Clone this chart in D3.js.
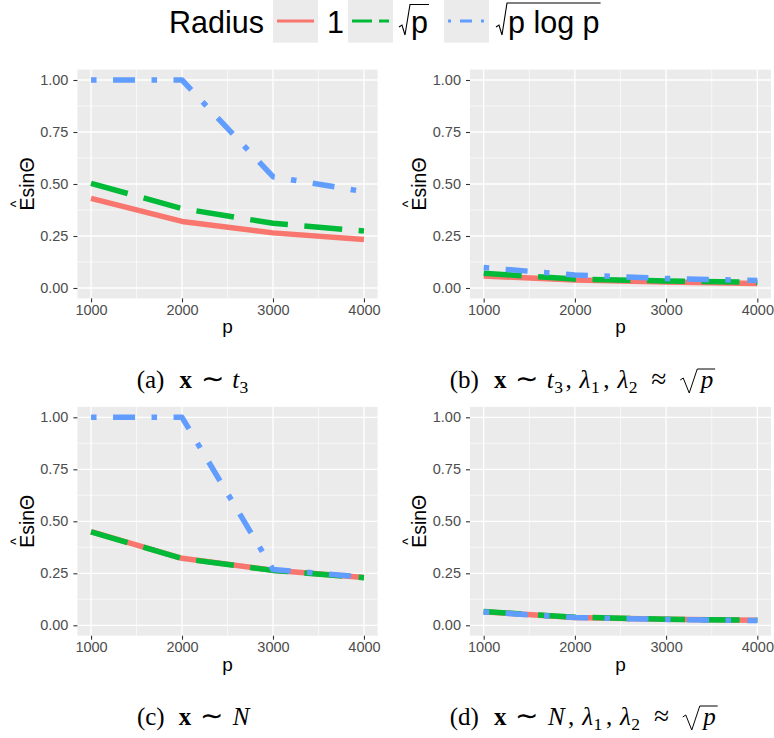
<!DOCTYPE html>
<html>
<head>
<meta charset="utf-8">
<script src="https://cdn.jsdelivr.net/npm/d3@7"></script>
<style>
  body { margin: 0; background: #fff; }
  svg { display: block; }
</style>
</head>
<body>
<div id="chart"></div>
<script>
// Shared values
const pValues = [1000, 2000, 3000, 4000];
const xTicks = [1000, 2000, 3000, 4000];
const xMinorTicks = [1500, 2500, 3500];
const yTicks = [0, 0.25, 0.5, 0.75, 1];
const yMinorTicks = [0.125, 0.375, 0.625, 0.875];
const radiusLabels = ["1", "p", "p log p"];

// (a) x ~ t3
const aRadius1 = [0.431, 0.320, 0.265, 0.233];
const aRadiusSqrt = [0.503, 0.382, 0.311, 0.274];
const aRadiusSqrtLog = [1.0, 1.0, 0.535, 0.463];
// (b) x ~ t3, lambda ~ sqrt(p)
const bRadius1 = [0.058, 0.038, 0.029, 0.022];
const bRadiusSqrt = [0.071, 0.043, 0.034, 0.027];
const bRadiusSqrtLog = [0.098, 0.063, 0.046, 0.036];
// (c) x ~ N
const cRadius1 = [0.450, 0.322, 0.265, 0.230];
const cRadiusSqrt = [0.449, 0.321, 0.264, 0.229];
const cRadiusSqrtLog = [1.0, 1.0, 0.268, 0.232];
// (d) x ~ N, lambda ~ sqrt(p)
const dRadius1 = [0.065, 0.038, 0.029, 0.024];
const dRadiusSqrt = [0.066, 0.039, 0.029, 0.024];
const dRadiusSqrtLog = [0.064, 0.037, 0.028, 0.023];

const colors = ["#F8766D", "#00BA38", "#619CFF"];
const dashes = [null, "38,16.5", "5.5,16.5,22,16.5"];
const legendDashes = [null, "20,7", "3,9,12,9"];

const width = 774, height = 738;
const sans = "'Liberation Sans', Arial, sans-serif";
const serif = "'Liberation Serif', 'Times New Roman', serif";

const svg = d3.select("#chart").append("svg")
    .attr("width", width)
    .attr("height", height);

// panel layout
const panels = [
    { series: [aRadius1, aRadiusSqrt, aRadiusSqrtLog], left: 77.4, right: 377.6, top: 69.6, bottom: 298.4, ylab: 34 },
    { series: [bRadius1, bRadiusSqrt, bRadiusSqrtLog], left: 470, right: 771, top: 69.6, bottom: 298.4, ylab: 426 },
    { series: [cRadius1, cRadiusSqrt, cRadiusSqrtLog], left: 77.4, right: 377.6, top: 406.9, bottom: 635.7, ylab: 34 },
    { series: [dRadius1, dRadiusSqrt, dRadiusSqrtLog], left: 470, right: 771, top: 406.9, bottom: 635.7, ylab: 426 }
];

function drawPanel(pn) {
    // scales with the usual 5% expansion
    let x = d3.scaleLinear().domain([850, 4150]).range([pn.left, pn.right]);
    let y = d3.scaleLinear().domain([-0.05, 1.05]).range([pn.bottom, pn.top]);

    let g = svg.append("g");

    g.append("rect")
     .attr("x", pn.left).attr("y", pn.top)
     .attr("width", pn.right - pn.left).attr("height", pn.bottom - pn.top)
     .attr("fill", "#EBEBEB");

    // grid
    g.selectAll(".xminor").data(xMinorTicks).join("line")
     .attr("x1", d => x(d)).attr("x2", d => x(d))
     .attr("y1", pn.top).attr("y2", pn.bottom)
     .attr("stroke", "#fff").attr("stroke-width", 0.6);
    g.selectAll(".yminor").data(yMinorTicks).join("line")
     .attr("y1", d => y(d)).attr("y2", d => y(d))
     .attr("x1", pn.left).attr("x2", pn.right)
     .attr("stroke", "#fff").attr("stroke-width", 0.6);
    g.selectAll(".xmajor").data(xTicks).join("line")
     .attr("x1", d => x(d)).attr("x2", d => x(d))
     .attr("y1", pn.top).attr("y2", pn.bottom)
     .attr("stroke", "#fff").attr("stroke-width", 1.3);
    g.selectAll(".ymajor").data(yTicks).join("line")
     .attr("y1", d => y(d)).attr("y2", d => y(d))
     .attr("x1", pn.left).attr("x2", pn.right)
     .attr("stroke", "#fff").attr("stroke-width", 1.3);

    // data lines
    let line = d3.line().x((d, i) => x(pValues[i])).y(d => y(d));
    pn.series.forEach((s, k) => {
        g.append("path")
         .attr("d", line(s))
         .attr("fill", "none")
         .attr("stroke", colors[k])
         .attr("stroke-width", 5.5)
         .attr("stroke-linejoin", "round")
         .attr("stroke-dasharray", dashes[k]);
    });

    // axes
    let xAxis = g.append("g")
                 .attr("transform", `translate(0, ${pn.bottom})`)
                 .call(d3.axisBottom(x).tickValues(xTicks).tickFormat(d3.format("d")).tickSize(4).tickPadding(2));
    let yAxis = g.append("g")
                 .attr("transform", `translate(${pn.left}, 0)`)
                 .call(d3.axisLeft(y).tickValues(yTicks).tickFormat(d3.format(".2f")).tickSize(4).tickPadding(5));
    [xAxis, yAxis].forEach(ax => {
        ax.select(".domain").remove();
        ax.selectAll("line").attr("stroke", "#333333").attr("stroke-width", 1.1);
        ax.selectAll("text").attr("fill", "#4D4D4D").attr("font-family", sans).attr("font-size", "14.5px");
    });

    // axis titles
    g.append("text")
     .attr("x", (pn.left + pn.right) / 2).attr("y", pn.bottom + 35)
     .attr("text-anchor", "middle")
     .attr("font-family", sans).attr("font-size", "19px")
     .text("p");

    let yt = g.append("g")
              .attr("transform", `translate(${pn.ylab}, ${(pn.top + pn.bottom) / 2}) rotate(-90)`);
    let lab = yt.append("text")
                .attr("text-anchor", "middle")
                .attr("font-family", sans).attr("font-size", "19.5px")
                .text("EsinΘ");
    let w = lab.node().getComputedTextLength();
    yt.append("text")
      .attr("x", -w / 2 + 6.5).attr("y", -13)
      .attr("text-anchor", "middle")
      .attr("font-family", sans).attr("font-size", "14px")
      .text("^");
}

panels.forEach(drawPanel);

// Legend
let legend = svg.append("g");
legend.append("text")
      .attr("x", 169).attr("y", 33)
      .attr("font-family", sans).attr("font-size", "30.5px")
      .text("Radius");

const keyX = [273, 348, 444];
const labX = [327, 397, 494];
keyX.forEach((kx, k) => {
    legend.append("rect")
          .attr("x", kx).attr("y", -1).attr("width", 45).attr("height", 43.7)
          .attr("fill", "#EBEBEB");
    legend.append("line")
          .attr("x1", kx + 4).attr("x2", kx + 41)
          .attr("y1", 21).attr("y2", 21)
          .attr("stroke", colors[k]).attr("stroke-width", 3)
          .attr("stroke-dasharray", legendDashes[k]);

    let lx = labX[k];
    if (k === 0) {
        legend.append("text")
              .attr("x", lx).attr("y", 33)
              .attr("font-family", sans).attr("font-size", "30.5px")
              .text(radiusLabels[k]);
    } else {
        let t = legend.append("text")
                      .attr("x", lx + 14).attr("y", 33)
                      .attr("font-family", sans).attr("font-size", "30.5px")
                      .text(radiusLabels[k]);
        let tw = t.node().getComputedTextLength();
        let topY = k === 1 ? 4.5 : 3;
        legend.append("path")
              .attr("d", `M${lx + 2},${27} L${lx + 5},${25} L${lx + 8},${35} L${lx + 13},${topY} L${lx + 14 + tw + 1},${topY}`)
              .attr("fill", "none").attr("stroke", "#000").attr("stroke-width", 1.1);
    }
});

// Captions: each piece is [text, style, advance in em]; glyphs are centred in
// slots sized like the LaTeX original, subscripts sit right after their base.
const capSize = 25;
const emPx = 27.5;
function caption(x0, y0, parts) {
    let cx = x0;
    let lastEnd = x0;
    parts.forEach(p => {
        let [txt, st, adv] = p;
        let slot = adv * emPx;
        if (st === "sqrt") {
            let top = y0 - 19;
            svg.append("path")
               .attr("d", `M${cx + 3},${y0 - 8} L${cx + 6},${y0 - 10} L${cx + 12},${y0 + 5} L${cx + 20},${top} L${cx + slot + 15},${top}`)
               .attr("fill", "none").attr("stroke", "#000").attr("stroke-width", 1);
        } else if (txt !== "") {
            let size = st === "sub" ? capSize * 0.7 : (st === "rel" ? capSize * 1.1 : capSize);
            let t = svg.append("text")
                       .attr("y", st === "sub" ? y0 + 5 : y0)
                       .attr("font-family", serif)
                       .attr("font-size", size + "px")
                       .text(txt);
            if (st === "bf") t.attr("font-weight", "bold");
            if (st === "it") t.attr("font-style", "italic");
            let tw = t.node().getComputedTextLength();
            let tx = st === "sub" ? lastEnd + 0.5 : cx + (slot - tw) / 2;
            t.attr("x", tx);
            lastEnd = tx + tw;
        }
        cx += slot;
    });
}

const capA = [["(a)", "rm", 1.278], ["", "sp", 0.333], ["x", "bf", 0.607], ["", "sp", 0.278], ["∼", "rel", 0.778],
              ["", "sp", 0.278], ["t", "it", 0.361], ["3", "sub", 0.35]];
const capB = [["(b)", "rm", 1.334], ["", "sp", 0.333], ["x", "bf", 0.607], ["", "sp", 0.278], ["∼", "rel", 0.778],
              ["", "sp", 0.278], ["t", "it", 0.361], ["3", "sub", 0.35], [",", "rm", 0.278], ["", "sp", 0.167],
              ["λ", "it", 0.583], ["1", "sub", 0.35], [",", "rm", 0.278], ["", "sp", 0.167],
              ["λ", "it", 0.583], ["2", "sub", 0.35], ["", "sp", 0.278], ["≈", "rel", 0.778], ["", "sp", 0.278],
              ["", "sqrt", 0.833], ["p", "it", 0.503]];
const capC = [["(c)", "rm", 1.222], ["", "sp", 0.333], ["x", "bf", 0.607], ["", "sp", 0.278], ["∼", "rel", 0.778],
              ["", "sp", 0.278], ["N", "it", 0.803]];
const capD = [["(d)", "rm", 1.334], ["", "sp", 0.333], ["x", "bf", 0.607], ["", "sp", 0.278], ["∼", "rel", 0.778],
              ["", "sp", 0.278], ["N", "it", 0.803], [",", "rm", 0.278], ["", "sp", 0.167],
              ["λ", "it", 0.583], ["1", "sub", 0.35], [",", "rm", 0.278], ["", "sp", 0.167],
              ["λ", "it", 0.583], ["2", "sub", 0.35], ["", "sp", 0.278], ["≈", "rel", 0.778], ["", "sp", 0.278],
              ["", "sqrt", 0.833], ["p", "it", 0.503]];

caption(133, 388, capA);
caption(446, 388, capB);
caption(134, 725, capC);
caption(446, 725, capD);
</script>
</body>
</html>
